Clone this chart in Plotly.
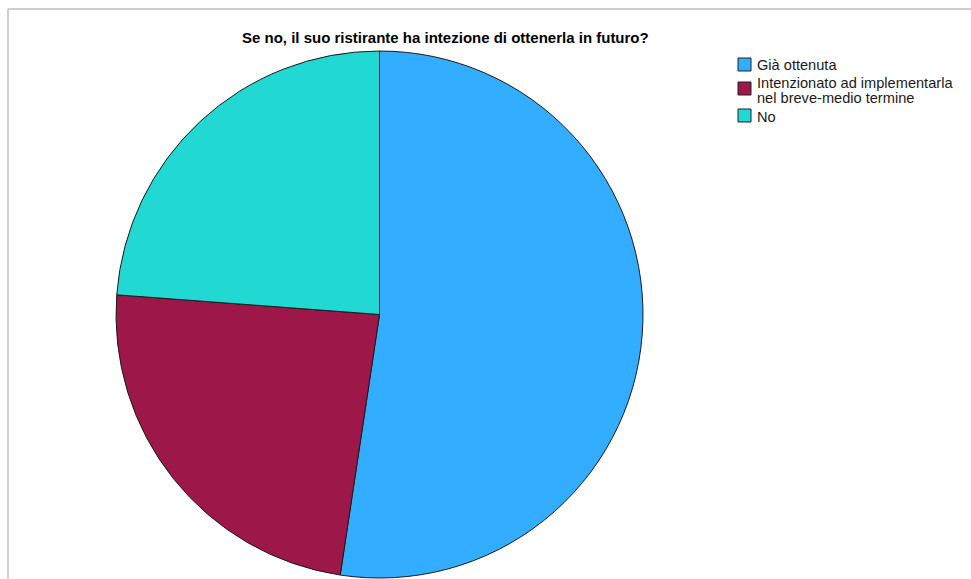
import plotly.graph_objects as go

W, H = 971, 579

title = "Se no, il suo ristirante ha intezione di ottenerla in futuro?"
labels = ["Già ottenuta",
          "Intenzionato ad implementarla<br>nel breve-medio termine",
          "No"]
counts = [22, 10, 10]
colors = ["#33ADFF", "#9E1749", "#21D8D3"]


def px_x(x):
    return x / W


def px_y(y):
    return 1 - y / H


fig = go.Figure()
fig.add_trace(go.Pie(
    labels=labels,
    values=counts,
    sort=False,
    direction="clockwise",
    rotation=0,
    marker=dict(colors=colors, line=dict(color="#1a1a1a", width=1)),
    textinfo="none",
    hoverinfo="label+value+percent",
    showlegend=False,
    domain=dict(x=[px_x(116), px_x(643)], y=[px_y(578), px_y(51)]),
))

shapes = [
    # light frame around the chart area
    dict(type="line", xref="paper", yref="paper",
         x0=px_x(8), x1=1.0, y0=px_y(9), y1=px_y(9),
         line=dict(color="#cfcfcf", width=2)),
    dict(type="line", xref="paper", yref="paper",
         x0=px_x(8), x1=px_x(8), y0=px_y(9), y1=0.0,
         line=dict(color="#cfcfcf", width=2)),
]

annotations = [
    dict(text=title, xref="paper", yref="paper",
         x=px_x(445), y=px_y(37.5), xanchor="center", yanchor="middle",
         showarrow=False,
         font=dict(family="Liberation Sans, Arial, sans-serif",
                   size=15, color="#000000", weight="bold")),
]

# hand-placed legend: swatch + text lines per category
legend_rows = [
    (58, [65]),
    (82, [83, 98]),
    (109, [117]),
]
for (sq_top, line_ys), label, color in zip(legend_rows, labels, colors):
    shapes.append(dict(type="rect", xref="paper", yref="paper",
                       x0=px_x(738), x1=px_x(751),
                       y0=px_y(sq_top + 13), y1=px_y(sq_top),
                       fillcolor=color, line=dict(color="#222222", width=1)))
    for line_text, ly in zip(label.split("<br>"), line_ys):
        annotations.append(dict(text=line_text, xref="paper", yref="paper",
                                x=px_x(755), y=px_y(ly),
                                xanchor="left", yanchor="middle",
                                showarrow=False,
                                font=dict(family="Liberation Sans, Arial, sans-serif",
                                          size=14.6, color="#1a1a1a")))

fig.update_layout(
    width=W, height=H,
    margin=dict(l=0, r=0, t=0, b=0),
    paper_bgcolor="white",
    plot_bgcolor="white",
    shapes=shapes,
    annotations=annotations,
)

fig.write_html("out.html")
